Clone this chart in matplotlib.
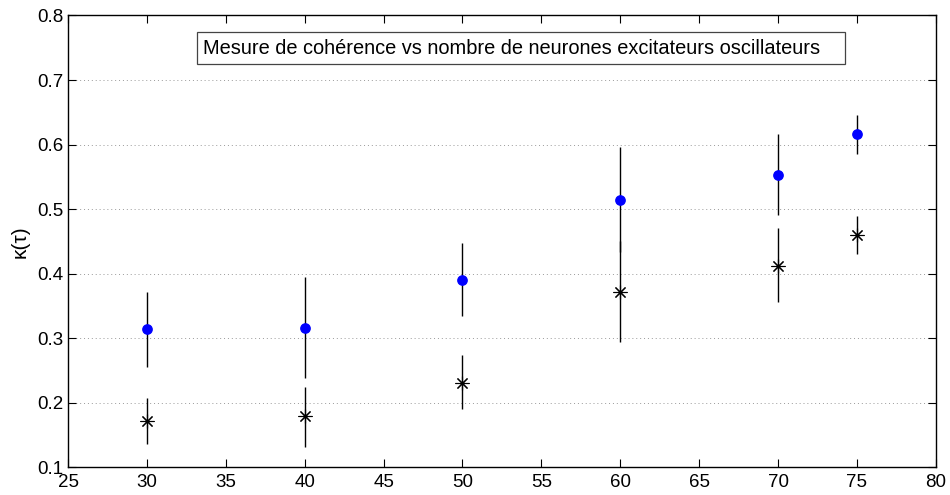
import matplotlib
matplotlib.use("Agg")
import matplotlib.pyplot as plt
from matplotlib.patches import Rectangle
import numpy as np

plt.rcParams['font.family'] = ['Liberation Sans', 'DejaVu Sans']

# number of excitatory oscillating neurons
n_neurons = [30, 40, 50, 60, 70, 75]

# blue series (mean and error bar ends)
blue_mean = [0.314, 0.316, 0.391, 0.514, 0.553, 0.616]
blue_top = [0.372, 0.395, 0.447, 0.596, 0.616, 0.646]
blue_bot = [0.256, 0.238, 0.335, 0.434, 0.491, 0.586]

# black star series
star_mean = [0.1725, 0.179, 0.231, 0.371, 0.4125, 0.460]
star_top = [0.207, 0.225, 0.274, 0.450, 0.471, 0.490]
star_bot = [0.137, 0.132, 0.190, 0.294, 0.356, 0.431]

fig = plt.figure(figsize=(9.5, 4.95), dpi=100)
ax = fig.add_axes([0.0716, 0.0556, 0.9135, 0.9131])

x = np.array(n_neurons)
ax.vlines(x, blue_bot, blue_top, color='black', linewidth=1)
ax.vlines(x, star_bot, star_top, color='black', linewidth=1)
ax.plot(x, blue_mean, 'o', color='#0000ff', markersize=6.7, zorder=3)
ax.plot(x, star_mean, linestyle='none', marker=(8, 2, 0), color='black',
        markersize=10, markeredgewidth=0.8, zorder=3)

ax.set_xlim(25, 80)
ax.set_ylim(0.1, 0.8)
ax.set_xticks(np.arange(25, 81, 5))
ax.set_yticks(np.arange(0.1, 0.81, 0.1))
ax.set_yticklabels(['%.1f' % v for v in np.arange(0.1, 0.81, 0.1)])
ax.tick_params(direction='in', top=True, right=True, labelsize=13.5, length=6, pad=3)
ax.tick_params(axis='x', pad=5)
ax.yaxis.grid(True, linestyle=(0, (1, 3)), color='#999999', linewidth=0.7)
ax.set_ylabel('κ(τ)', fontsize=15, labelpad=6)
for s in ax.spines.values():
    s.set_linewidth(1)

# legend-like title box
ax.add_patch(Rectangle((0.1486, 0.8927), 0.7464, 0.0708, transform=ax.transAxes,
                       facecolor='white', edgecolor='#444444', linewidth=0.9, zorder=4))
ax.text(0.1555, 0.928, 'Mesure de cohérence vs nombre de neurones excitateurs oscillateurs',
        transform=ax.transAxes, fontsize=14.4, va='center', ha='left', zorder=5)

fig.savefig('out.png', dpi=100)
